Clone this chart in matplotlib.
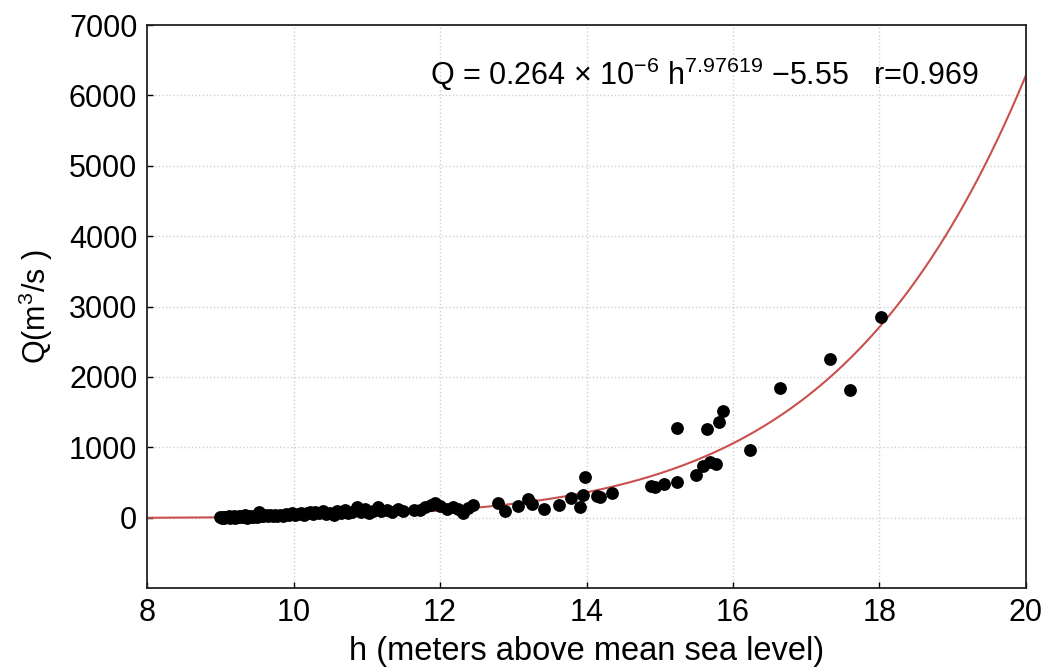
import numpy as np
import matplotlib
matplotlib.use('Agg')
import matplotlib.pyplot as plt

plt.rcParams['font.family'] = ['Liberation Sans', 'DejaVu Sans']
plt.rcParams['mathtext.fontset'] = 'custom'
plt.rcParams['mathtext.rm'] = 'Liberation Sans'
plt.rcParams['mathtext.it'] = 'Liberation Sans'

# observed stage (h) and discharge (Q)
h_obs = [9.00, 9.02, 9.04, 9.05, 9.07, 9.08, 9.10, 9.12, 9.13, 9.15, 9.17, 9.19, 9.20, 9.22,
         9.24, 9.26, 9.28, 9.30, 9.32, 9.34, 9.36, 9.38, 9.40, 9.42, 9.45, 9.48, 9.50, 9.53,
         9.55, 9.58, 9.62, 9.65, 9.68, 9.72, 9.75, 9.78, 9.82, 9.86, 9.90, 9.94, 9.98, 10.02,
         10.06, 10.10, 10.14, 10.18, 10.22, 10.26, 10.30, 10.35, 10.40, 10.45, 10.50, 10.55,
         10.60, 10.65, 10.70, 10.75, 10.80, 10.87, 10.92, 10.98, 11.03, 11.08, 11.15, 11.20,
         11.28, 11.35, 11.42, 11.50, 11.65, 11.73, 11.80, 11.88, 11.93, 12.00, 12.10, 12.18,
         12.25, 12.31, 12.38, 12.45, 12.79, 12.89, 13.06, 13.20, 13.26, 13.42, 13.62, 13.79,
         13.91, 13.95, 13.98, 14.14, 14.18, 14.35, 14.88, 14.94, 15.06, 15.23, 15.24, 15.50,
         15.59, 15.64, 15.69, 15.77, 15.81, 15.86, 16.23, 16.64, 17.32, 17.60, 18.02]
Q_obs = [5, 0, 10, -5, 15, 3, 8, 20, -2, 12, 5, 25, 0, 15,
         8, 30, 4, 18, 10, 35, 2, 20, 12, 28, 5, 22, 15, 85,
         30, 18, 40, 25, 35, 20, 45, 30, 40, 25, 50, 35, 60, 40,
         55, 70, 45, 60, 80, 50, 75, 60, 90, 55, 70, 45,
         95, 70, 110, 60, 85, 150, 80, 120, 60, 100, 150, 90,
         110, 75, 120, 95, 110, 115, 150, 180, 210, 165, 120, 155,
         130, 70, 140, 185, 213, 100, 171, 270, 199, 128, 185, 284,
         156, 327, 583, 313, 300, 356, 455, 441, 484, 512, 1270, 612,
         740, 1266, 797, 768, 1366, 1522, 967, 1840, 2248, 1820, 2845]

# fitted rating curve Q = a * h^b + c
a_fit = 0.264e-6
b_fit = 7.97619
c_fit = -5.55

fig = plt.figure(figsize=(10.45, 6.69), dpi=100)
ax = fig.add_axes([0.1407, 0.121, 0.8411, 0.8415])

hh = np.linspace(8, 20, 400)
ax.plot(hh, a_fit * hh**b_fit + c_fit, '-', c='#c9504d', lw=1.5, zorder=2)
ax.scatter(h_obs, Q_obs, s=85, c='black', zorder=3, lw=0)

ax.set_xlim(8, 20)
ax.set_ylim(-1000, 7000)
ax.set_xticks(np.arange(8, 21, 2))
ax.set_yticks(np.arange(0, 7001, 1000))
ax.tick_params(direction='in', length=4, labelsize=22, width=1, pad=7)
ax.grid(True, ls=':', color='#d0d0d0', lw=1)
for s in ax.spines.values():
    s.set_linewidth(1.3)
    s.set_color('#222222')

ax.set_xlabel('h (meters above mean sea level)', fontsize=23.5, labelpad=6)
ax.set_ylabel(r'Q(m$^3$/s )', fontsize=22, labelpad=10)
ax.text(0.322, 0.913, r'Q = 0.264 × 10$^{-6}$ h$^{7.97619}$ −5.55   r=0.969',
        transform=ax.transAxes, fontsize=22, va='center')

fig.savefig('out.png', dpi=100)
